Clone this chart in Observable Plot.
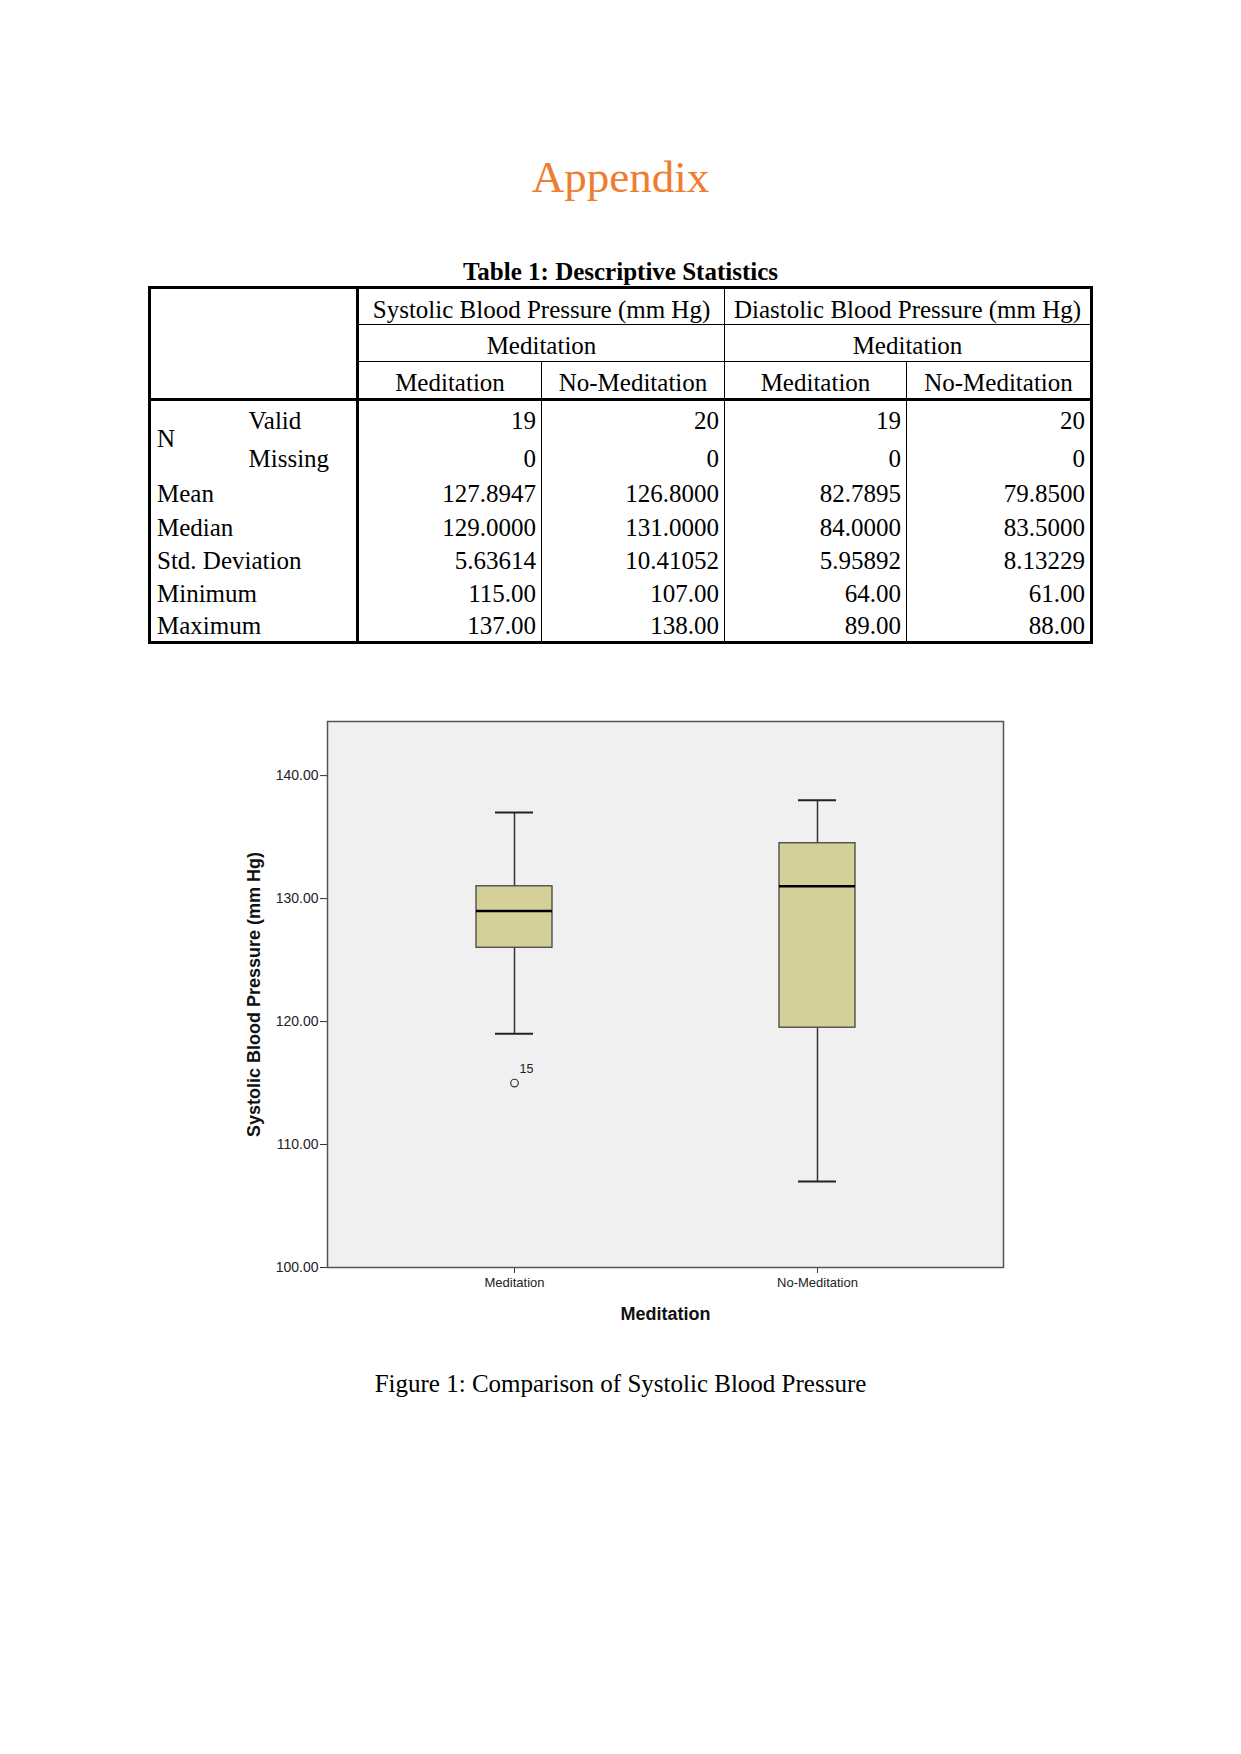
<!DOCTYPE html>
<html><head><meta charset="utf-8">
<script src="https://cdn.jsdelivr.net/npm/d3@7"></script>
<script src="https://cdn.jsdelivr.net/npm/@observablehq/plot@0.6"></script>
<style>
body{margin:0;background:#fff;}
#page{position:relative;width:1241px;height:1754px;font-family:"Liberation Serif","Times New Roman",serif;color:#000;}
.abs{position:absolute;left:0;width:1241px;text-align:center;white-space:nowrap;}
#title{top:155px;font-size:45px;line-height:45px;color:#ED7D31;}
#ttitle{top:259px;font-size:25px;line-height:25px;font-weight:bold;}
#caption{top:1371px;font-size:25px;line-height:25px;}
#tbl{position:absolute;left:148px;top:286px;border-collapse:collapse;table-layout:fixed;width:942px;font-size:25px;border:3px solid #000;}
#tbl td{padding:0 5px;white-space:nowrap;line-height:1;border:0;}
#tbl td.h{text-align:center;border:1px solid #000;padding-top:5px;}
#tbl td.hb{border-bottom:3px solid #000;}
#tbl td.stub{border-right:3px solid #000;text-align:left;padding-left:6px;}
#tbl td.sub{text-align:left;padding-left:7px;}
#tbl td.num{text-align:right;border-left:1px solid #000;border-right:1px solid #000;padding-right:5px;}
#chart{position:absolute;left:200px;top:700px;}
</style></head>
<body><div id="page">
<div id="title" class="abs">Appendix</div>
<div id="ttitle" class="abs">Table 1: Descriptive Statistics</div>
<table id="tbl"></table>
<div id="chart"></div>
<div id="caption" class="abs">Figure 1: Comparison of Systolic Blood Pressure</div>
</div>
<script>
// ---- table data ----
const variables = ["Systolic Blood Pressure (mm Hg)", "Diastolic Blood Pressure (mm Hg)"];
const factorName = "Meditation";
const levels = ["Meditation", "No-Meditation"];
const nValid = [19, 20, 19, 20];
const nMissing = [0, 0, 0, 0];
const statLabels = ["Mean", "Median", "Std. Deviation", "Minimum", "Maximum"];
const statDecimals = [4, 4, 5, 2, 2];
const means = [127.8947, 126.8000, 82.7895, 79.8500];
const medians = [129.0000, 131.0000, 84.0000, 83.5000];
const stdDevs = [5.63614, 10.41052, 5.95892, 8.13229];
const minimums = [115.00, 107.00, 64.00, 61.00];
const maximums = [137.00, 138.00, 89.00, 88.00];

// ---- chart data ----
const groups = ["Meditation", "No-Meditation"];
const whiskerLow = [119, 107];
const q1 = [126, 119.5];
const median = [129, 131];
const q3 = [131, 134.5];
const whiskerHigh = [137, 138];
const outlierGroup = ["Meditation"];
const outlierValue = [115];
const outlierLabel = ["15"];
const yTicks = [100, 110, 120, 130, 140];
const yDomain = [100, 144.4];

// ---- build table ----
const tbl = document.getElementById("tbl");
const colW = [92, 116, 184, 183, 182, 185];
let html = "<colgroup>" + colW.map(w => `<col style="width:${w}px">`).join("") + "</colgroup>";
html += `<tr style="height:37px"><td class="stub hb" rowspan="3" colspan="2"></td>` +
  variables.map(v => `<td class="h" colspan="2">${v}</td>`).join("") + "</tr>";
html += `<tr style="height:37px">` + variables.map(() => `<td class="h" colspan="2">${factorName}</td>`).join("") + "</tr>";
html += `<tr style="height:38px">` + variables.map(() => levels.map(l => `<td class="h hb">${l}</td>`).join("")).join("") + "</tr>";
html += `<tr style="height:40px"><td rowspan="2" style="text-align:left;padding-left:6px">N</td><td class="stub sub">Valid</td>` +
  nValid.map(v => `<td class="num">${v}</td>`).join("") + "</tr>";
html += `<tr style="height:37px"><td class="stub sub">Missing</td>` +
  nMissing.map(v => `<td class="num">${v}</td>`).join("") + "</tr>";
const statRows = [means, medians, stdDevs, minimums, maximums];
const statH = [34, 33, 33, 33, 33];
statLabels.forEach((lab, i) => {
  html += `<tr style="height:${statH[i]}px"><td class="stub" colspan="2">${lab}</td>` +
    statRows[i].map(v => `<td class="num">${v.toFixed(statDecimals[i])}</td>`).join("") + "</tr>";
});
tbl.innerHTML = html;

// ---- chart ----
const boxes = groups.map((g, i) => ({group: g, lo: whiskerLow[i], q1: q1[i], med: median[i], q3: q3[i], hi: whiskerHigh[i]}));
const outliers = outlierGroup.map((g, i) => ({group: g, value: outlierValue[i], label: outlierLabel[i]}));
const fmt = d => d.toFixed(2);

const chart = Plot.plot({
  width: 840, height: 627,
  marginLeft: 127, marginRight: 37, marginTop: 21, marginBottom: 60,
  style: {fontFamily: "'Liberation Sans', Arial, sans-serif", background: "transparent", color: "#222"},
  x: {domain: groups, type: "band", paddingInner: 0.75, paddingOuter: 0.487, label: null},
  y: {domain: yDomain, label: null},
  marks: [
    Plot.frame({fill: "#f0f0f0"}),
    Plot.ruleX(boxes, {x: "group", y1: "lo", y2: "q1", stroke: "#333", strokeWidth: 1.5}),
    Plot.ruleX(boxes, {x: "group", y1: "q3", y2: "hi", stroke: "#333", strokeWidth: 1.5}),
    Plot.barY(boxes, {x: "group", y1: "q1", y2: "q3", fill: "#d3d199", stroke: "#444", strokeWidth: 1.3}),
    Plot.tickY(boxes, {x: "group", y: "med", stroke: "#000", strokeWidth: 2.5}),
    Plot.tickY(boxes, {x: "group", y: "lo", stroke: "#222", strokeWidth: 2, insetLeft: 19, insetRight: 19}),
    Plot.tickY(boxes, {x: "group", y: "hi", stroke: "#222", strokeWidth: 2, insetLeft: 19, insetRight: 19}),
    Plot.dot(outliers, {x: "group", y: "value", r: 3.8, stroke: "#333", strokeWidth: 1.2, fill: "none"}),
    Plot.text(outliers, {x: "group", y: "value", text: "label", dx: 12, dy: -14, fontSize: 12.5, fill: "#222"}),
    Plot.axisY({ticks: yTicks, tickFormat: fmt, tickSize: 7, tickPadding: 2, fontSize: 14, stroke: "#333",
      label: "Systolic Blood Pressure (mm Hg)", labelAnchor: "center", labelOffset: 80, labelArrow: false}),
    Plot.axisX({tickSize: 6, tickPadding: 4, fontSize: 13, stroke: "#333",
      label: "Meditation", labelAnchor: "center", labelOffset: 52, labelArrow: false}),
    Plot.frame({stroke: "#555", strokeWidth: 1.5})
  ]
});
document.getElementById("chart").appendChild(chart);
// make axis titles bold and larger
chart.querySelectorAll("g[aria-label='y-axis label'] text, g[aria-label='x-axis label'] text").forEach(t => {
  t.setAttribute("font-weight", "bold");
  t.setAttribute("font-size", "18");
  t.setAttribute("fill", "#111");
});
</script>
</body></html>
